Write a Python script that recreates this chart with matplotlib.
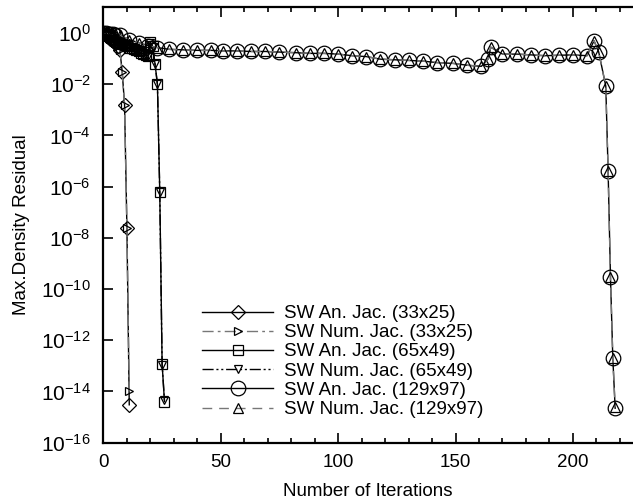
import matplotlib
matplotlib.use("Agg")
import matplotlib.pyplot as plt
from matplotlib.ticker import LogLocator, LogFormatterMathtext, MultipleLocator, NullLocator

plt.rcParams['font.family'] = ['Liberation Sans', 'DejaVu Sans']
plt.rcParams['mathtext.fontset'] = 'custom'
plt.rcParams['mathtext.rm'] = 'Liberation Sans'
plt.rcParams['mathtext.it'] = 'Liberation Sans'

# 33x25 grid
it_33 = list(range(0, 12))
an_33 = [1.0, 0.85, 0.7, 0.58, 0.48, 0.4, 0.32, 0.22, 0.03, 1.6e-3, 2.5e-8, 3e-15]
num_33 = [1.0, 0.85, 0.7, 0.58, 0.48, 0.4, 0.32, 0.22, 0.03, 1.6e-3, 2.5e-8, 1e-14]

# 65x49 grid
it_65 = list(range(0, 27))
an_65 = [1.0, 0.9, 0.8, 0.7, 0.6, 0.52, 0.46, 0.41, 0.37, 0.33, 0.3, 0.27, 0.25,
         0.23, 0.21, 0.19, 0.17, 0.15, 0.14, 0.13, 0.45, 0.3, 0.06, 1e-2, 6e-7,
         1.2e-13, 4e-15]
num_65 = [1.0, 0.9, 0.8, 0.7, 0.6, 0.52, 0.46, 0.41, 0.37, 0.33, 0.3, 0.27, 0.25,
          0.23, 0.21, 0.19, 0.17, 0.15, 0.14, 0.13, 0.42, 0.28, 0.06, 1e-2, 6e-7,
          1.1e-13, 4.5e-15]

# 129x97 grid
it_129 = [0, 1, 2, 3, 4, 5, 7, 11, 15, 19, 23, 28, 34, 40, 46, 51, 57, 63, 69, 75,
          82, 88, 94, 100, 106, 112, 118, 124, 130, 136, 142, 149, 155, 161, 164,
          165, 170, 176, 182, 188, 194, 200, 206, 209, 211, 214, 215, 216, 217, 218]
an_129 = [1.0, 0.97, 0.95, 0.92, 0.9, 0.87, 0.83, 0.55, 0.42, 0.32, 0.27, 0.23,
          0.22, 0.21, 0.21, 0.2, 0.2, 0.19, 0.19, 0.18, 0.17, 0.16, 0.16, 0.15,
          0.13, 0.12, 0.095, 0.09, 0.085, 0.08, 0.07, 0.065, 0.055, 0.05, 0.1,
          0.28, 0.15, 0.15, 0.14, 0.13, 0.135, 0.14, 0.13, 0.5, 0.18, 8.5e-3,
          4e-6, 3e-10, 2e-13, 2.2e-15]
num_129 = [1.0, 0.97, 0.95, 0.92, 0.9, 0.87, 0.83, 0.55, 0.42, 0.32, 0.27, 0.23,
           0.22, 0.21, 0.21, 0.2, 0.2, 0.19, 0.19, 0.18, 0.17, 0.16, 0.16, 0.15,
           0.13, 0.12, 0.095, 0.09, 0.085, 0.08, 0.07, 0.065, 0.055, 0.05, 0.1,
           0.28, 0.15, 0.15, 0.14, 0.13, 0.135, 0.14, 0.13, 0.5, 0.18, 8.5e-3,
           4e-6, 3e-10, 2e-13, 2.5e-15]

labels = ['SW An. Jac. (33x25)', 'SW Num. Jac. (33x25)', 'SW An. Jac. (65x49)',
          'SW Num. Jac. (65x49)', 'SW An. Jac. (129x97)', 'SW Num. Jac. (129x97)']

fig = plt.figure(figsize=(6.33, 5.04), dpi=100)
ax = fig.add_axes([0.1634, 0.1218, 0.8366, 0.8635])

mk = dict(markerfacecolor='none', markeredgecolor='black', markeredgewidth=0.9)
ax.plot(it_33, an_33, '-', color='black', lw=1.0, marker='D', markersize=7, label=labels[0], **mk)
ax.plot(it_33, num_33, color='#777777', lw=1.0, dashes=[8, 3, 2, 3], marker='>', markersize=6, label=labels[1], **mk)
ax.plot(it_65, an_65, '-', color='black', lw=1.0, marker='s', markersize=7.5, label=labels[2], **mk)
ax.plot(it_65, num_65, color='black', lw=1.0, dashes=[8, 2, 1.5, 2, 1.5, 2], marker='v', markersize=6, label=labels[3], **mk)
ax.plot(it_129, an_129, '-', color='black', lw=1.0, marker='o', markersize=10.5, label=labels[4], **mk)
ax.plot(it_129, num_129, color='#777777', lw=1.0, dashes=[7, 5], marker='^', markersize=6.5, label=labels[5], **mk)

ax.set_yscale('log')
ax.set_xlim(0, 225.6)
ax.set_ylim(1e-16, 1e1)
ax.yaxis.set_major_locator(LogLocator(base=100.0, numticks=20))
ax.yaxis.set_major_formatter(LogFormatterMathtext(base=10))
ax.yaxis.set_minor_locator(NullLocator())
ax.xaxis.set_major_locator(MultipleLocator(50))
ax.xaxis.set_minor_locator(MultipleLocator(10))

for s in ['left', 'bottom', 'top']:
    ax.spines[s].set_linewidth(1.6)
ax.spines['right'].set_visible(False)
ax.tick_params(which='both', direction='in', top=True, right=False, width=1.2)
ax.tick_params(which='major', length=7)
ax.tick_params(which='minor', length=3.5)
ax.tick_params(axis='x', pad=8, labelsize=13.5)
ax.tick_params(axis='y', pad=9, labelsize=15)

ax.set_xlabel('Number of Iterations', fontsize=13.5, labelpad=9)
ax.set_ylabel('Max.Density Residual', fontsize=13.5, labelpad=8)

ax.legend(loc='upper left', bbox_to_anchor=(202 / 633, 1 - 305 / 504),
          bbox_transform=fig.transFigure, frameon=False, fontsize=13.5,
          handlelength=3.8, handletextpad=0.6, labelspacing=0.11,
          borderpad=0, borderaxespad=0, numpoints=1)

fig.savefig('out.png', dpi=100)
